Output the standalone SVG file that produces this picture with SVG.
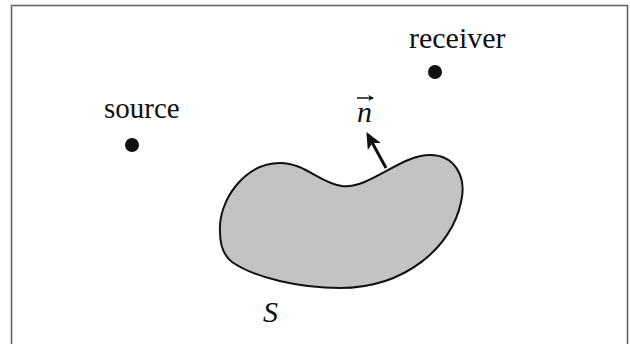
<svg xmlns="http://www.w3.org/2000/svg" width="630" height="344" viewBox="0 0 630 344">
<style>
.t{font-family:"Liberation Serif","Times New Roman",serif;fill:#111}
.i{font-style:italic}
.dot{fill:#111}
</style>
<defs>
<marker id="ah" viewBox="0 0 10 10" refX="8" refY="5" markerWidth="5.5" markerHeight="5.5" orient="auto" markerUnits="strokeWidth">
<path d="M0,0.5 L10,5 L0,9.5 L2.5,5 Z" fill="#111"/>
</marker>
<marker id="ah2" viewBox="0 0 10 10" refX="8" refY="5" markerWidth="4" markerHeight="4" orient="auto" markerUnits="strokeWidth">
<path d="M0,0 L10,5 L0,10 L3,5 Z" fill="#111"/>
</marker>
</defs>
<rect width="630" height="344" fill="#fff"/>
<rect x="11.5" y="5.5" width="616" height="350" fill="none" stroke="#666" stroke-width="1.6"/>
<g id="surface">
<path d="M220,232 C218,200 245,163 280,163 C305,163 320,183 342,186 C370,189 400,155 430,155 C455,155 467,177 461,202 C452,247 405,288 340,288 C300,288 255,278 232,262 C223,255 220,243 220,232 Z" fill="#c3c3c3" stroke="#111" stroke-width="2"/>
<text class="t i" x="263" y="322" font-size="30">S</text>
</g>
<g id="source">
<circle class="dot" cx="132" cy="145" r="7"/>
<text class="t" x="104" y="118" font-size="29">source</text>
</g>
<g id="receiver">
<circle class="dot" cx="435" cy="72" r="7"/>
<text class="t" x="409" y="48" font-size="30">receiver</text>
</g>
<g id="connectors">
<line x1="386" y1="168" x2="368" y2="135" stroke="#111" stroke-width="3" marker-end="url(#ah)"/>
<line x1="357" y1="98" x2="373" y2="98" stroke="#111" stroke-width="1.5" marker-end="url(#ah2)"/>
</g>
<g id="normal-label">
<text class="t i" x="357" y="122" font-size="30">n</text>
</g>
</svg>
